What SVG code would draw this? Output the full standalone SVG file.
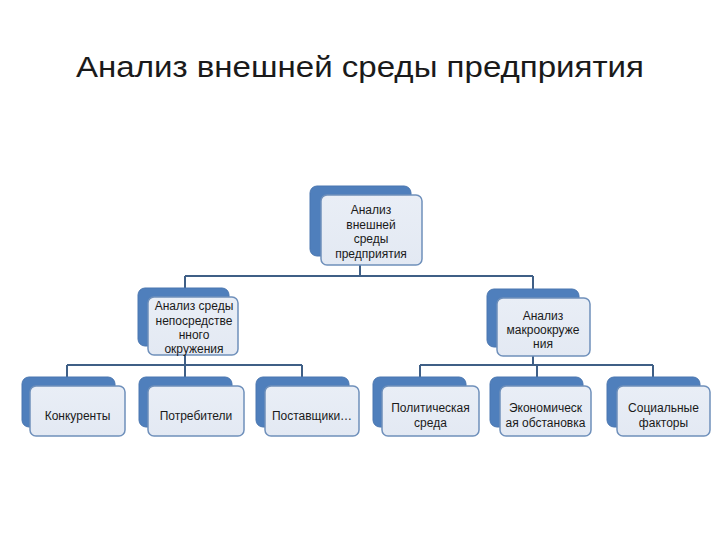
<svg xmlns="http://www.w3.org/2000/svg" width="720" height="540" viewBox="0 0 720 540">
<defs>
<linearGradient id="fg" x1="0" y1="0" x2="0" y2="1">
<stop offset="0" stop-color="#e9eef6"/>
<stop offset="1" stop-color="#e3e9f3"/>
</linearGradient>
<style>
.back{fill:#4f7fbc;stroke:#4a76b0;stroke-width:1}
.front{fill:url(#fg);stroke:#6f90bb;stroke-width:1.5}
.conn{fill:none;stroke:#3f5f86;stroke-width:2}
.t{font-family:"Liberation Sans","DejaVu Sans",sans-serif;font-size:12px;fill:#1a1a1a;text-anchor:middle}
.title{font-family:"Liberation Sans","DejaVu Sans",sans-serif;font-size:29px;fill:#1a1a1a;text-anchor:middle}
</style>
</defs>
<rect width="720" height="540" fill="#ffffff"/>
<text class="title" x="360" y="77" textLength="568" lengthAdjust="spacingAndGlyphs">Анализ внешней среды предприятия</text>

<g id="connectors">
<path class="conn" d="M360,258 V276 M185,276 H533 M185,276 V289 M533,276 V290"/>
<path class="conn" d="M185,347 V365 M67,365 H302 M67,365 V377 M185,365 V377 M302,365 V377"/>
<path class="conn" d="M533,348 V365 M420,365 H653 M420,365 V377 M537,365 V377 M653,365 V377"/>
</g>

<g id="n-top">
<rect class="back" x="310" y="186" width="101" height="70" rx="7"/>
<rect class="front" x="321" y="195" width="101" height="70" rx="6"/>
<text class="t" x="371" y="214">Анализ</text>
<text class="t" x="371" y="228.5">внешней</text>
<text class="t" x="371" y="243">среды</text>
<text class="t" x="371" y="257.5">предприятия</text>
</g>

<g id="n-direct">
<rect class="back" x="138" y="288" width="91" height="58" rx="7"/>
<rect class="front" x="148" y="297" width="90" height="58" rx="6"/>
<text class="t" x="194" y="310">Анализ среды</text>
<text class="t" x="194" y="324.5">непосредстве</text>
<text class="t" x="194" y="339">нного</text>
<text class="t" x="194" y="353">окружения</text>
</g>

<g id="n-macro">
<rect class="back" x="487" y="289" width="92" height="58" rx="7"/>
<rect class="front" x="497" y="298" width="93" height="58" rx="6"/>
<text class="t" x="543" y="320">Анализ</text>
<text class="t" x="543" y="334">макроокруже</text>
<text class="t" x="543" y="348">ния</text>
</g>

<g id="n-competitors">
<rect class="back" x="22" y="377" width="93" height="50" rx="7"/>
<rect class="front" x="30" y="386" width="95" height="50" rx="6"/>
<text class="t" x="77.5" y="420">Конкуренты</text>
</g>

<g id="n-consumers">
<rect class="back" x="139" y="377" width="93" height="50" rx="7"/>
<rect class="front" x="148" y="386" width="96" height="50" rx="6"/>
<text class="t" x="196" y="420">Потребители</text>
</g>

<g id="n-suppliers">
<rect class="back" x="256" y="377" width="93" height="50" rx="7"/>
<rect class="front" x="265" y="386" width="94" height="50" rx="6"/>
<text class="t" x="312" y="420">Поставщики…</text>
</g>

<g id="n-political">
<rect class="back" x="373" y="377" width="93" height="50" rx="7"/>
<rect class="front" x="382" y="386" width="97" height="50" rx="6"/>
<text class="t" x="430.5" y="412">Политическая</text>
<text class="t" x="430.5" y="427">среда</text>
</g>

<g id="n-economic">
<rect class="back" x="490" y="377" width="93" height="50" rx="7"/>
<rect class="front" x="500" y="386" width="91" height="50" rx="6"/>
<text class="t" x="545.5" y="412">Экономическ</text>
<text class="t" x="545.5" y="427">ая обстановка</text>
</g>

<g id="n-social">
<rect class="back" x="607" y="377" width="93" height="50" rx="7"/>
<rect class="front" x="617" y="386" width="93" height="50" rx="6"/>
<text class="t" x="663.5" y="412">Социальные</text>
<text class="t" x="663.5" y="427">факторы</text>
</g>
</svg>
